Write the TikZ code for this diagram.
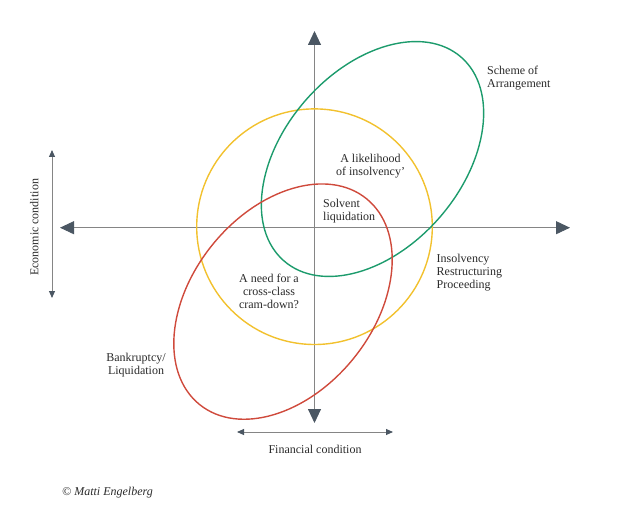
\documentclass[tikz,border=0pt]{standalone}
\usepackage{fontspec}
\setmainfont{Liberation Serif}
\usetikzlibrary{arrows.meta}
\definecolor{axisgray}{HTML}{858585}
\definecolor{tipgray}{HTML}{4B5763}
\definecolor{cgreen}{HTML}{1C9B6C}
\definecolor{cyellow}{HTML}{F2C12E}
\definecolor{cred}{HTML}{CF4A3C}
\definecolor{txt}{HTML}{2A2A2A}
\tikzset{
  mainaxis/.style={draw=axisgray, line width=0.9pt, -{Triangle[length=14pt,width=13pt,color=tipgray]}},
  smallaxis/.style={draw=axisgray, line width=0.9pt, {Triangle[length=7pt,width=6pt,color=tipgray]}-{Triangle[length=7pt,width=6pt,color=tipgray]}},
  lbl/.style={font=\fontsize{12}{13}\selectfont, text=txt, inner sep=0pt},
  ring/.style={line width=1.4pt},
}
\begin{document}
\begin{tikzpicture}[x=1pt,y=-1pt]
\useasboundingbox (0,0) rectangle (623,513);
% axes
\coordinate (O) at (314.5,227.7);
\coordinate (T) at (314.5,31);
\coordinate (B) at (314.5,423);
\coordinate (L) at (60,227.7);
\coordinate (R) at (570,227.7);
\draw[mainaxis] (O) -- (T);
\draw[mainaxis] (O) -- (B);
\draw[mainaxis] (O) -- (L);
\draw[mainaxis] (O) -- (R);
% shapes
\draw[ring, cyellow] (314.5,226.7) circle [radius=117.8];
\draw[ring, cgreen] (372.5,159) ellipse [x radius=135, y radius=89, rotate=49];
\draw[ring, cred] (283,301.6) ellipse [x radius=132.5, y radius=90.6, rotate=50.9];
% small axes
\coordinate (E1) at (52,150);
\coordinate (E2) at (52,298);
\draw[smallaxis] (E1) -- (E2);
\coordinate (F1) at (237,432);
\coordinate (F2) at (393,432);
\draw[smallaxis] (F1) -- (F2);
% labels
\node[lbl, anchor=north west, align=left] (scheme) at (487,66) {Scheme of\\Arrangement};
\node[lbl, anchor=north, align=center] (likely) at (370.5,153.5) {A likelihood\\of insolvency'};
\node[lbl, anchor=north west, align=left] (solvent) at (323,198.5) {Solvent\\liquidation};
\node[lbl, anchor=north west, align=left] (irp) at (436.5,254) {Insolvency\\Restructuring\\Proceeding};
\node[lbl, anchor=north, align=center] (cram) at (269,273.5) {A need for a\\cross-class\\cram-down?};
\node[lbl, anchor=north, align=center] (bank) at (136,352.5) {Bankruptcy/\\Liquidation};
\node[lbl, anchor=base] (fin) at (315,453) {Financial condition};
\node[lbl, anchor=base, rotate=90] (eco) at (38.3,227.5) {Economic condition};
\node[lbl, anchor=base west, font=\fontsize{12}{14}\selectfont\itshape] (copy) at (62,495) {\textcopyright{} Matti Engelberg};
\end{tikzpicture}
\end{document}
